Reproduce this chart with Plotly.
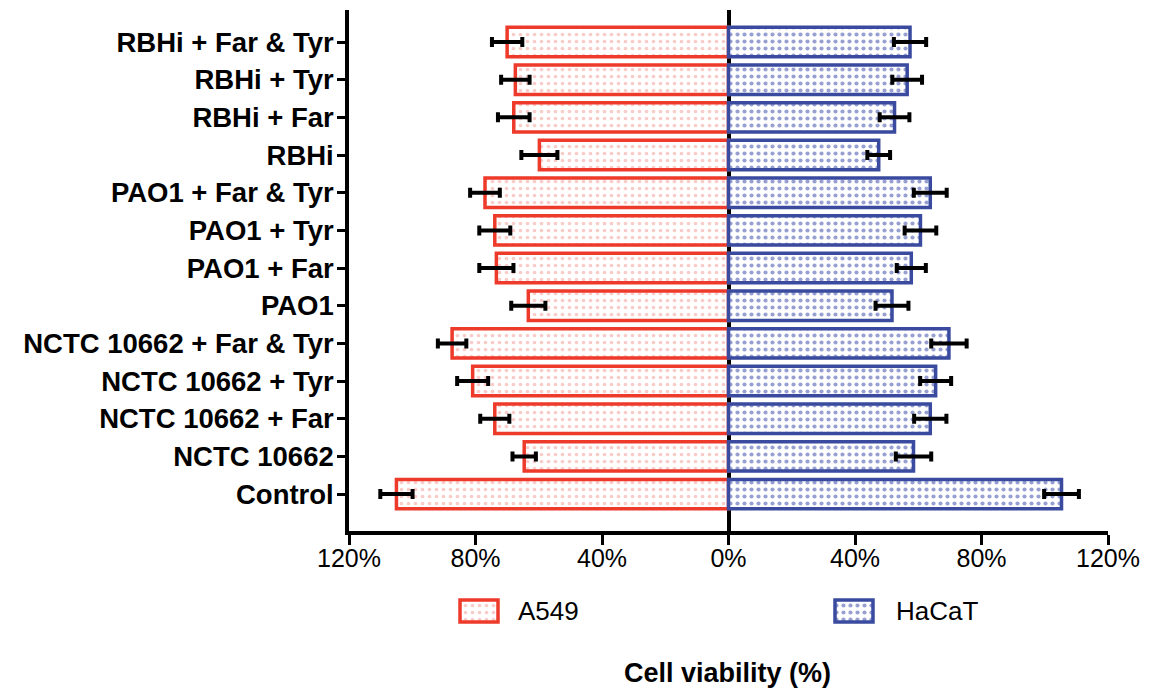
import plotly.graph_objects as go

# Treatments, listed bottom to top
categories = [
    "Control", "NCTC 10662", "NCTC 10662 + Far", "NCTC 10662 + Tyr",
    "NCTC 10662 + Far & Tyr", "PAO1", "PAO1 + Far", "PAO1 + Tyr",
    "PAO1 + Far & Tyr", "RBHi", "RBHi + Far", "RBHi + Tyr", "RBHi + Far & Tyr",
]

# Cell viability (%) and error (SD)
a549_mean = [105.0, 64.6, 73.9, 80.9, 87.4, 63.3, 73.4, 73.9, 77.0, 59.8, 67.9, 67.4, 70.0]
a549_err = [5.1, 3.7, 4.6, 4.9, 4.5, 5.4, 5.4, 4.9, 4.7, 5.7, 5.0, 4.5, 4.8]
hacat_mean = [105.3, 58.5, 63.8, 65.5, 69.7, 51.7, 57.8, 60.7, 63.8, 47.5, 52.5, 56.5, 57.4]
hacat_err = [5.5, 5.6, 5.1, 4.9, 5.6, 5.2, 4.6, 5.0, 5.2, 3.6, 4.7, 4.7, 5.1]

tick_vals = [-120, -80, -40, 0, 40, 80, 120]
tick_text = ["120%", "80%", "40%", "0%", "40%", "80%", "120%"]

series_names = ["A549", "HaCaT"]

RED = "#EE3A2A"
RED_DOT = "#F29A93"
BLUE = "#3A4B9F"
BLUE_DOT = "#2F42A3"
FONT = "Liberation Sans, Arial, sans-serif"

W, H = 1159, 695

fig = go.Figure()

err_style = dict(type="data", symmetric=True, color="black", thickness=4, width=5)


def bar_marker(line_color, dot_color, solidity):
    return dict(color="white", line=dict(color=line_color, width=3.5),
                pattern=dict(shape=".", fgcolor=dot_color, bgcolor="white",
                             size=7, solidity=solidity))


fig.add_trace(go.Bar(
    y=categories, x=[-v for v in a549_mean], orientation="h", name=series_names[0],
    width=0.78, marker=bar_marker(RED, RED_DOT, 0.22),
    error_x=dict(array=a549_err, **err_style),
    showlegend=False,
))
fig.add_trace(go.Bar(
    y=categories, x=hacat_mean, orientation="h", name=series_names[1],
    width=0.78, marker=bar_marker(BLUE, BLUE_DOT, 0.28),
    error_x=dict(array=hacat_err, **err_style),
    showlegend=False,
))

# Legend swatches drawn on an overlay axis measured in figure pixels
swatches = [
    dict(x0=460, name=series_names[0], line=RED, dot=RED_DOT, sol=0.22, text_x=516),
    dict(x0=835, name=series_names[1], line=BLUE, dot=BLUE_DOT, sol=0.28, text_x=894),
]
SW_W, SW_H, SW_Y = 38, 22, 611
for s in swatches:
    fig.add_trace(go.Bar(
        x=[SW_W], y=[SW_Y], base=[s["x0"]], orientation="h", width=SW_H,
        xaxis="x2", yaxis="y2", showlegend=False, hoverinfo="skip",
        marker=bar_marker(s["line"], s["dot"], s["sol"]),
    ))
    fig.add_annotation(
        x=s["text_x"], y=SW_Y, xref="x2", yref="y2", text=s["name"], showarrow=False,
        xanchor="left", yanchor="middle", font=dict(family=FONT, size=26, color="black"),
    )

fig.add_annotation(
    x=727, y=673, xref="x2", yref="y2", text="<b>Cell viability (%)</b>", showarrow=False,
    xanchor="center", yanchor="middle", font=dict(family=FONT, size=27, color="black"),
)

x_left, x_right = 349, 1108
y_top, y_bottom = 10, 531

fig.update_layout(
    width=W, height=H,
    margin=dict(l=0, r=0, t=0, b=0),
    paper_bgcolor="white", plot_bgcolor="rgba(0,0,0,0)",
    barmode="overlay",
    font=dict(family=FONT, color="black"),
    xaxis=dict(
        domain=[x_left / W, x_right / W], range=[-120, 120],
        tickvals=tick_vals, ticktext=tick_text,
        tickfont=dict(size=25, family=FONT),
        ticks="outside", ticklen=10, tickwidth=3, tickcolor="black",
        ticklabelstandoff=-8,
        showline=True, linecolor="black", linewidth=3.5,
        showgrid=False, zeroline=True, zerolinecolor="black", zerolinewidth=3.5,
        layer="above traces", automargin=False, fixedrange=True,
    ),
    yaxis=dict(
        domain=[(H - y_bottom) / H, (H - y_top) / H],
        categoryorder="array", categoryarray=categories,
        range=[-0.98, 12.85],
        tickfont=dict(size=27.5, family=FONT),
        tickprefix="<b>", ticksuffix="</b>",
        ticks="outside", ticklen=8, tickwidth=3, tickcolor="black",
        ticklabelstandoff=-2,
        showline=True, linecolor="black", linewidth=3.5,
        showgrid=False, layer="above traces", automargin=False, fixedrange=True,
    ),
    xaxis2=dict(domain=[0, 1], range=[0, W], visible=False, fixedrange=True, anchor="y2"),
    yaxis2=dict(domain=[0, 1], range=[H, 0], visible=False, fixedrange=True, anchor="x2"),
)

fig.write_html("out.html")
